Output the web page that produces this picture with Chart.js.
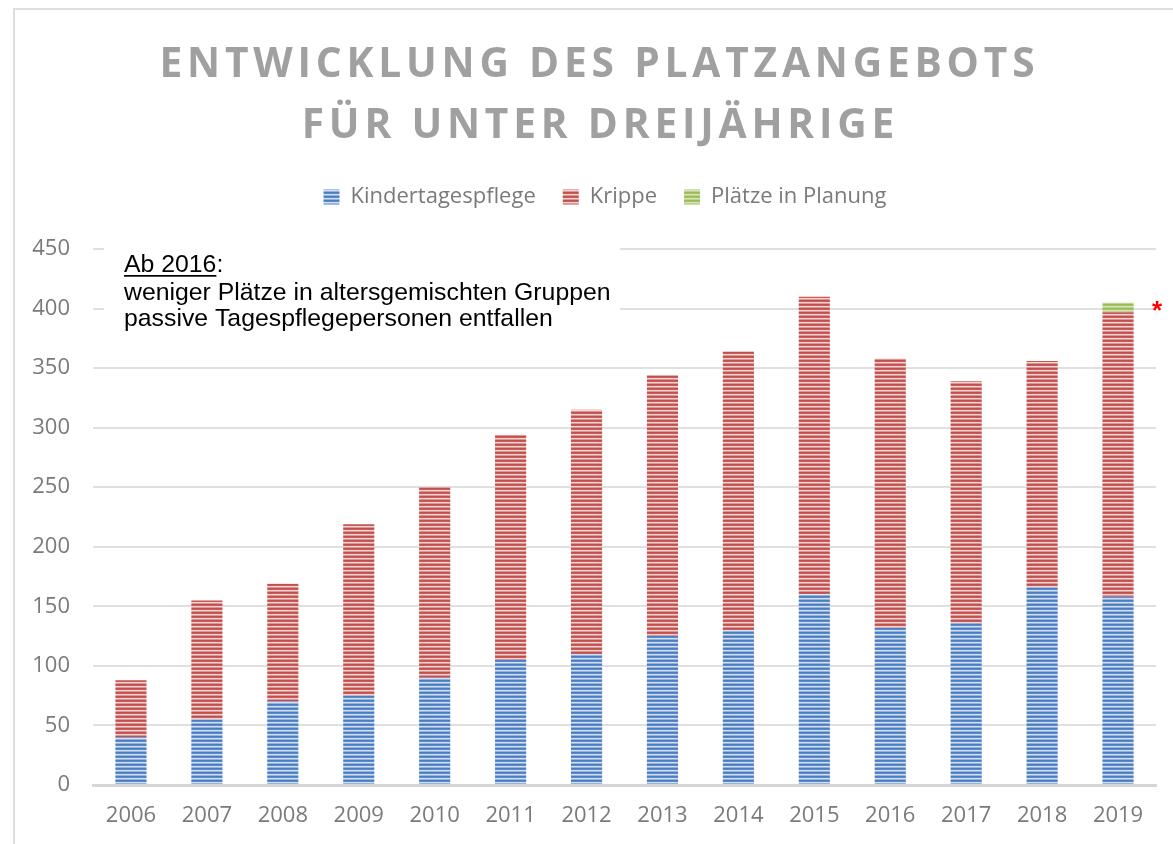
<!DOCTYPE html>
<html><head><meta charset="utf-8">
<script src="https://cdn.jsdelivr.net/npm/chart.js@4"></script>
<style>html,body{margin:0;padding:0;background:#fff;} canvas{display:block;}</style>
</head><body>
<canvas id="c" width="1173" height="844"></canvas>
<script>
// ---- data ----
const years = ['2006','2007','2008','2009','2010','2011','2012','2013','2014','2015','2016','2017','2018','2019'];
const kindertagespflege = [40, 55, 70, 75, 90, 105, 110, 125, 130, 160, 132, 136, 166, 158];
const krippe = [48, 100, 99, 144, 160, 189, 205, 219, 234, 250, 226, 203, 190, 239];
const plaetzeInPlanung = [null, null, null, null, null, null, null, null, null, null, null, null, null, 8];
const seriesNames = ['Kindertagespflege', 'Krippe', 'Plätze in Planung'];
const yMin = 0, yMax = 450, yStep = 50;
const titleLines = ['ENTWICKLUNG DES PLATZANGEBOTS', 'FÜR UNTER DREIJÄHRIGE'];
const noteHead = 'Ab 2016';
const noteLines = ['weniger Plätze in altersgemischten Gruppen', 'passive Tagespflegepersonen entfallen'];
const footnoteMark = '*';

// ---- styles ----
const canvas = document.getElementById('c');
const ctx0 = canvas.getContext('2d');
function stripes(colors) {
  const c = document.createElement('canvas');
  c.width = 4; c.height = colors.length;
  const x = c.getContext('2d');
  colors.forEach((col, i) => { x.fillStyle = col; x.fillRect(0, i, 4, 1); });
  return ctx0.createPattern(c, 'repeat');
}
const bluePat = stripes(['#4a7dbf', '#5b8acb', '#d3e0f2', '#93b3de']);
const redPat = stripes(['#c0504d', '#c85c59', '#f6d4d3', '#de9593']);
const greenPat = stripes(['#9bbb59', '#a3c163', '#d6e5b8', '#bcd28f']);

const gray = '#7a7a7a';

const legendGap = {
  id: 'legendGap',
  beforeInit(chart) {
    const fit = chart.legend.fit;
    chart.legend.fit = function () { fit.bind(chart.legend)(); this.height += 31; };
  },
  afterLayout(chart) {
    chart.legend.left += 27;
    chart.legend.right += 27;
  }
};

const decorations = {
  id: 'decorations',
  beforeDraw(chart) {
    const ctx = chart.ctx;
    ctx.save();
    ctx.strokeStyle = '#dedede';
    ctx.lineWidth = 2;
    ctx.strokeRect(14, 9, 1200, 900);
    // title
    ctx.fillStyle = '#a0a0a0';
    ctx.font = 'bold 40.7px "Open Sans"';
    ctx.textAlign = 'center';
    ctx.textBaseline = 'alphabetic';
    const ls = 4.8;
    ctx.letterSpacing = ls + 'px';
    ctx.fillText(titleLines[0], 597 + ls / 2, 77);
    ctx.fillText(titleLines[1], 598 + ls / 2, 138);
    ctx.restore();
  },
  beforeDatasetsDraw(chart) {
    const ctx = chart.ctx;
    ctx.save();
    ctx.fillStyle = '#ffffff';
    ctx.fillRect(104, 240, 516, 98);
    ctx.fillStyle = '#000000';
    ctx.font = '24.8px "Liberation Sans", Arial';
    ctx.textAlign = 'left';
    ctx.textBaseline = 'alphabetic';
    ctx.fillText(noteHead, 124, 272);
    const w = ctx.measureText(noteHead).width;
    ctx.fillText(':', 124 + w, 272);
    ctx.fillRect(124, 275, w, 1.7);
    ctx.fillText(noteLines[0], 124, 300);
    ctx.fillText(noteLines[1], 124, 326);
    ctx.restore();
  },
  afterDraw(chart) {
    const ctx = chart.ctx;
    const meta = chart.getDatasetMeta(2);
    const el = meta.data[meta.data.length - 1];
    ctx.save();
    ctx.fillStyle = '#ff0000';
    ctx.font = 'bold 26px "Liberation Sans", Arial';
    ctx.textAlign = 'center';
    ctx.textBaseline = 'alphabetic';
    ctx.fillText(footnoteMark, el.x + 39, el.y + 16);
    ctx.restore();
  }
};

new Chart(canvas, {
  type: 'bar',
  data: {
    labels: years,
    datasets: [
      { label: seriesNames[0], data: kindertagespflege, backgroundColor: bluePat },
      { label: seriesNames[1], data: krippe, backgroundColor: redPat },
      { label: seriesNames[2], data: plaetzeInPlanung, backgroundColor: greenPat }
    ]
  },
  options: {
    responsive: false,
    animation: false,
    layout: { padding: { top: 159, left: 0, right: 17, bottom: 0 } },
    datasets: { bar: { barPercentage: 0.41, categoryPercentage: 1, borderWidth: 0 } },
    plugins: {
      title: { display: false },
      tooltip: { enabled: false },
      legend: {
        position: 'top',
        labels: {
          boxWidth: 16, boxHeight: 15, padding: 27,
          color: gray,
          font: { family: '"Open Sans"', size: 22 }
        }
      }
    },
    scales: {
      x: {
        stacked: true,
        grid: { display: false, drawTicks: false },
        border: { display: true, color: '#d6d6d6', width: 3 },
        ticks: { color: gray, padding: 18, font: { family: '"Open Sans"', size: 22 } },
        afterFit(s) { s.height = 59; }
      },
      y: {
        stacked: true,
        min: yMin, max: yMax,
        grid: { color: '#e0e0e0', lineWidth: 2, drawTicks: false },
        border: { display: false },
        ticks: { stepSize: yStep, color: gray, padding: 23, font: { family: '"Open Sans"', size: 22 } },
        afterFit(s) { s.width = 93; }
      }
    }
  },
  plugins: [legendGap, decorations]
});
</script>
</body></html>
